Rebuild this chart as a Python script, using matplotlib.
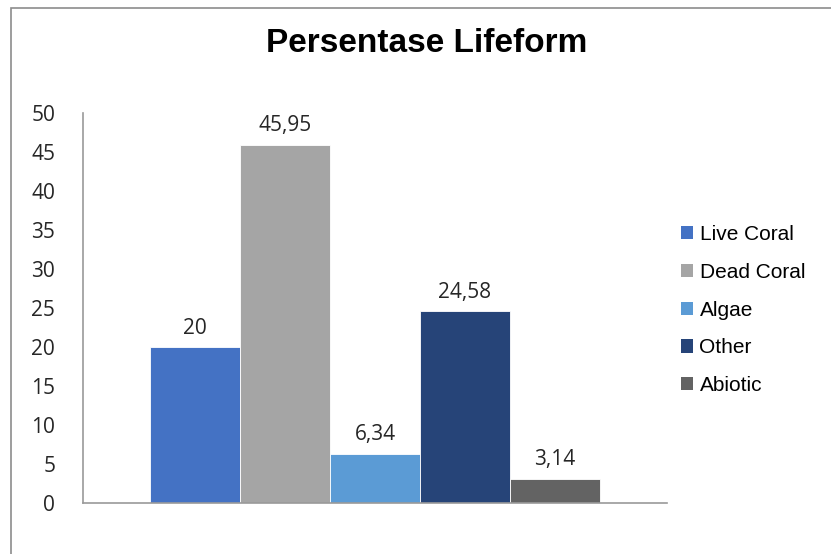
import matplotlib
matplotlib.use("Agg")
import matplotlib.pyplot as plt
from matplotlib.patches import Patch, Rectangle

categories = ["Live Coral", "Dead Coral", "Algae", "Other", "Abiotic"]
values = [20, 45.95, 6.34, 24.58, 3.14]
value_labels = ["20", "45,95", "6,34", "24,58", "3,14"]
colors = ["#4472C4", "#A5A5A5", "#5B9BD5", "#264478", "#636363"]
yticks = [0, 5, 10, 15, 20, 25, 30, 35, 40, 45, 50]

fig = plt.figure(figsize=(8.31, 5.54), dpi=100)
ax = fig.add_axes([83/831, 1-503/554, (667-83)/831, (503-113)/554])

# outer chart frame (only left and top fall inside the image)
fig.patches.append(Rectangle((11/831, -0.1), 1.2, 1-8/554+0.1, transform=fig.transFigure,
                             fill=False, edgecolor="#8c8c8c", linewidth=1.2))

x = list(range(len(values)))
ax.bar(x, values, width=1.0, color=colors, edgecolor="white", linewidth=0.6)
for xi, v, lab in zip(x, values, value_labels):
    ax.annotate(lab, (xi, v), xytext=(0, 6), textcoords="offset points",
                ha="center", va="bottom", fontsize=15, family="Open Sans", color="#262626")

ax.set_xlim(-1.25, 5.25)
ax.set_ylim(0, 50)
ax.set_yticks(yticks)
ax.set_xticks([])
ax.tick_params(axis="y", length=0, pad=20, labelsize=15, labelcolor="#262626")
for t in ax.get_yticklabels():
    t.set_family("Open Sans")
for s in ["top", "right"]:
    ax.spines[s].set_visible(False)
for s in ["left", "bottom"]:
    ax.spines[s].set_color("#9a9a9a")
    ax.spines[s].set_linewidth(1.2)

fig.text(0.514, 1-44/554, "Persentase Lifeform", ha="center", va="center",
         fontsize=24, fontweight="bold", family="Liberation Sans", color="black")

handles = [Patch(facecolor=c, label=n) for c, n in zip(colors, categories)]
fig.legend(handles=handles, loc="center left", bbox_to_anchor=(662/831, 1-310/554),
           frameon=False, prop={"family": "Liberation Sans", "size": 15},
           handlelength=0.6, handleheight=0.6, handletextpad=0.3, labelspacing=0.9)

fig.savefig("out.png", dpi=100)
